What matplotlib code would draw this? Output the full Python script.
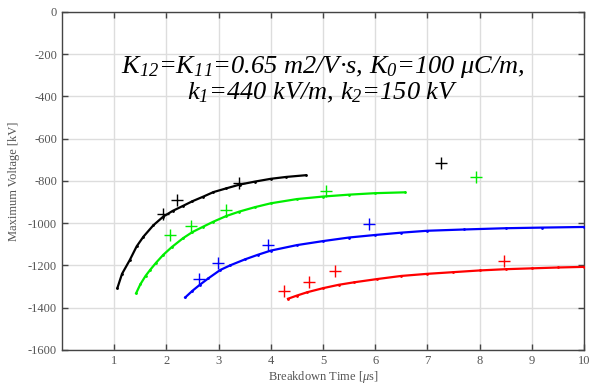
import matplotlib
matplotlib.use("Agg")
import matplotlib.pyplot as plt

plt.rcParams["font.family"] = ["Liberation Serif", "DejaVu Serif"]
plt.rcParams["mathtext.fontset"] = "custom"
plt.rcParams["mathtext.rm"] = "Liberation Serif:italic"
plt.rcParams["mathtext.it"] = "Liberation Serif:italic"
plt.rcParams["axes.unicode_minus"] = False

# fitted curves (breakdown time [us], voltage [kV])
black_t = [1.06, 1.15, 1.3, 1.43, 1.56, 1.75, 1.94, 2.12, 2.32, 2.5, 2.71, 2.9,
           3.15, 3.41, 3.7, 4.0, 4.3, 4.67]
black_v = [-1308, -1240, -1174, -1110, -1064, -1010, -969, -942, -918, -896, -874, -853,
           -835, -817, -803, -790, -781, -773]
green_t = [1.42, 1.5, 1.6, 1.69, 1.8, 1.94, 2.1, 2.32, 2.5, 2.71, 2.9, 3.15, 3.4,
           3.7, 4.0, 4.5, 5.0, 5.5, 6.0, 6.57]
green_v = [-1332, -1290, -1250, -1221, -1188, -1150, -1114, -1071, -1042, -1016, -993, -966, -945,
           -924, -906, -886, -874, -865, -858, -854]
blue_t = [2.36, 2.5, 2.64, 2.8, 3.03, 3.22, 3.5, 3.75, 4.0, 4.5, 5.0, 5.5, 6.0,
          6.5, 7.0, 7.7, 8.5, 9.2, 10.0]
blue_v = [-1352, -1320, -1292, -1262, -1222, -1200, -1172, -1150, -1130, -1104, -1085, -1068, -1056,
          -1045, -1036, -1030, -1024, -1021, -1018]
red_t = [4.33, 4.5, 4.7, 5.0, 5.3, 5.6, 6.03, 6.5, 7.0, 7.5, 8.0, 8.5, 9.0, 9.5, 10.0]
red_v = [-1358, -1343, -1327, -1308, -1292, -1280, -1265, -1250, -1240, -1232, -1224, -1218,
         -1214, -1210, -1207]

# measured points
black_mt = [1.94, 2.2, 3.39, 7.27]
black_mv = [-956, -890, -809, -716]
green_mt = [2.06, 2.47, 3.14, 5.06, 7.93]
green_mv = [-1056, -1013, -937, -846, -780]
blue_mt = [2.63, 2.98, 3.95, 5.88]
blue_mv = [-1265, -1190, -1103, -1005]
red_mt = [4.26, 4.74, 5.24, 8.47]
red_mv = [-1321, -1277, -1226, -1179]

fig = plt.figure(figsize=(6.02, 3.87), dpi=100)
ax = fig.add_axes([0.103, 0.096, 0.867, 0.873])

series = [
    (black_t, black_v, black_mt, black_mv, "black"),
    (green_t, green_v, green_mt, green_mv, "#00ee00"),
    (blue_t, blue_v, blue_mt, blue_mv, "#0000ff"),
    (red_t, red_v, red_mt, red_mv, "#ff0000"),
]
for t, v, mt, mv, c in series:
    ax.plot(t, v, color=c, lw=1.6, marker=".", ms=2, zorder=3)
    ax.plot(mt, mv, ls="none", marker="+", ms=8, mew=1.0, color=c, zorder=4)

ax.set_xlim(0, 10)
ax.set_ylim(-1600, 0)
ax.set_xticks(range(1, 11))
ax.set_yticks(range(-1600, 1, 200))
ax.grid(True, color="#dddddd", lw=1.0)
ax.set_axisbelow(True)
ax.tick_params(direction="in", top=True, right=True, length=4, width=1,
               colors="#444444", labelcolor="#555555", labelsize=9)
for sp in ax.spines.values():
    sp.set_color("#444444")
    sp.set_linewidth(1.0)

ax.set_xlabel("Breakdown Time [$\\mu$s]", fontsize=9, color="#555555", labelpad=2)
ax.set_ylabel("Maximum Voltage [kV]", fontsize=9, color="#555555", labelpad=6)

ax.text(0.499, 0.82, "K$_{12}$=K$_{11}$=0.65 m2/V\u00b7s, K$_{0}$=100 \u03bcC/m,",
        transform=ax.transAxes, ha="center", va="baseline", fontsize=19,
        fontstyle="italic", color="black")
ax.text(0.499, 0.74, "k$_{1}$=440 kV/m, k$_{2}$=150 kV",
        transform=ax.transAxes, ha="center", va="baseline", fontsize=19,
        fontstyle="italic", color="black")

fig.savefig("out.png", dpi=100)
